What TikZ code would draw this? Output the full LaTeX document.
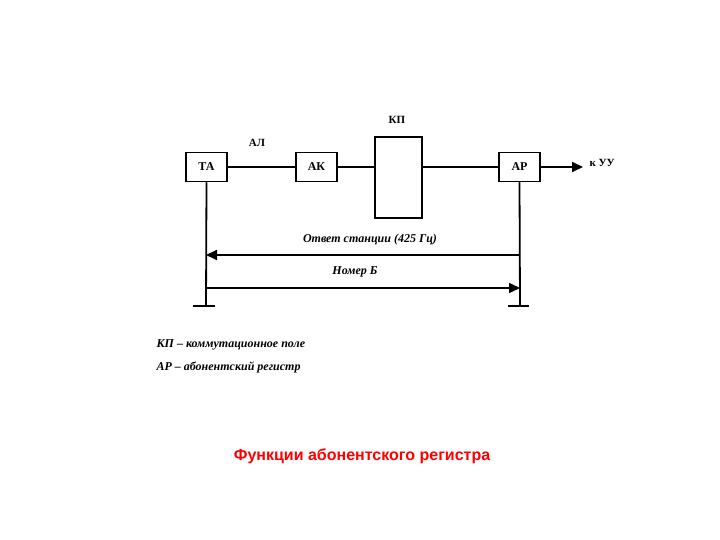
\documentclass[tikz,border=0pt]{standalone}
\usepackage{fontspec}
\setmainfont{Liberation Serif}
\newfontfamily\titlefont{Liberation Sans}
\usetikzlibrary{arrows.meta}
\begin{document}
\begin{tikzpicture}[x=1pt,y=-1pt,
  blk/.style={draw,line width=1.5pt,inner sep=0pt,font=\fontsize{12}{14}\selectfont\bfseries},
  ln/.style={line width=1.8pt},
  arr/.style={ln,-{Triangle[length=11pt,width=10pt]}},
  lbl/.style={font=\fontsize{12}{14}\selectfont\bfseries\itshape},
  lab/.style={font=\fontsize{11}{13}\selectfont\bfseries}]
\useasboundingbox (0,0) rectangle (720,540);
\node[blk,minimum width=41pt,minimum height=29pt] (ta) at (206.5,167) {ТА};
\node[blk,minimum width=41pt,minimum height=29pt] (ak) at (316.5,167) {АК};
\node[blk,minimum width=47pt,minimum height=81pt] (kp) at (398.5,177.5) {};
\node[blk,minimum width=41pt,minimum height=29pt] (ar) at (519.5,167) {АР};
\node[lab] (al) at (257,143) {АЛ};
\node[lab] (kpl) at (397,120) {КП};
\node[lab,anchor=west] (uu) at (586,163) {к УУ};
\draw[ln] (ta.east) -- (ak.west);
\draw[ln] (ak.east) -- (kp.west |- ak.east);
\draw[ln] (kp.east |- ar.west) -- (ar.west);
\coordinate (uend) at (583,167);
\draw[arr] (ar.east) -- (uend);
\coordinate (tg) at (206,306);
\coordinate (ag) at (520,306);
\draw[ln] (ta.south) -- (tg);
\draw[ln] (ar.south) -- (ag);
\draw[ln] (193,306) -- (215,306);
\draw[ln] (508,306) -- (529,306);
\coordinate (a1s) at (520,255);
\coordinate (a1e) at (206,255);
\coordinate (a2s) at (206,288);
\coordinate (a2e) at (520,288);
\draw[arr] (a1s) -- (a1e);
\draw[arr] (a2s) -- (a2e);
\node[lbl] (otv) at (370,240) {Ответ станции (425 Гц)};
\node[lbl] (nom) at (355,272) {Номер Б};
\node[lbl,anchor=west] (l1) at (153,345) {КП -- коммутационное поле};
\node[lbl,anchor=west] (l2) at (153,367) {АР -- абонентский регистр};
\node[font=\titlefont\fontsize{16}{18}\selectfont\bfseries,text=red] (title) at (362,456) {Функции абонентского регистра};
\end{tikzpicture}
\end{document}
